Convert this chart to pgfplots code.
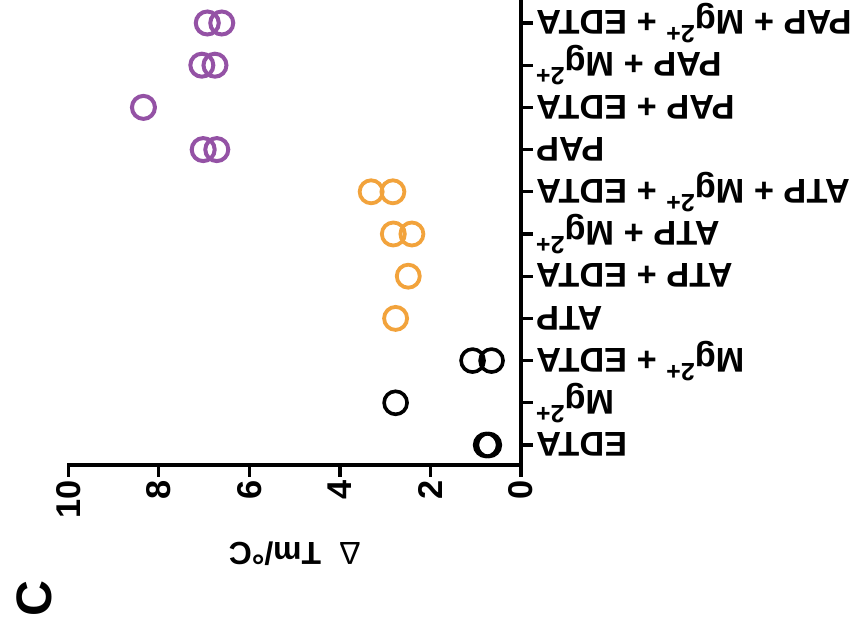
\documentclass[border=0pt]{standalone}
\usepackage{fontspec}
\setmainfont{Liberation Sans}
\usepackage{pgfplots}
\usepackage{pgfplotstable}
\pgfplotsset{compat=1.18}

\definecolor{papPurple}{RGB}{148,82,165}
\definecolor{atpOrange}{RGB}{242,163,60}

% raised charge for the magnesium ion
\newcommand{\mgion}{Mg\smash{\raisebox{15bp}{\fontsize{25}{25}\selectfont 2+}}}

% Delta Tm values: column val is the shift, idx the condition (0 = EDTA ... 10 = PAP + Mg2+ + EDTA)
\pgfplotstableread{
val idx
0.77 0
0.71 0
2.77 1
1.07 2
0.65 2
}\ionData
\pgfplotstableread{
val idx
2.77 3
2.49 4
2.82 5
2.41 5
3.31 6
2.83 6
}\atpData
\pgfplotstableread{
val idx
7.02 7
6.72 7
8.34 8
7.05 9
6.76 9
6.93 10
6.61 10
}\papData

\begin{document}
\begin{tikzpicture}
\path[use as bounding box] (0,0) rectangle (862bp,643bp);
\begin{axis}[
  scale only axis,
  width=452.7bp, height=465bp,
  at={(68.3bp,178bp)}, anchor=south west,
  x dir=reverse,
  xmin=0, xmax=10,
  ymin=-0.474, ymax=10.545,
  axis x line*=bottom,
  axis y line*=right,
  axis line style={line width=3.3bp, line cap=rect},
  every tick/.style={line width=3.3bp, black},
  tick align=outside,
  major tick length=12bp,
  xtick={0,2,4,6,8,10},
  ytick={0,1,2,3,4,5,6,7,8,9,10},
  yticklabels={EDTA, \mgion, \mgion{} + EDTA, ATP, ATP + EDTA,
    ATP + \mgion, ATP + \mgion{} + EDTA, PAP, PAP + EDTA,
    PAP + \mgion, PAP + \mgion{} + EDTA},
  /pgf/number format/assume math mode=true,
  tick label style={font=\fontsize{34.5}{34.5}\selectfont\bfseries},
  xticklabel style={rotate=90, anchor=east},
  yticklabel style={rotate=180, anchor=east, inner xsep=3bp,
    text height=24.7bp, text depth=0bp},
  xlabel={\textmd{Δ}\hspace{18bp}Tm/°C},
  xlabel style={at={(axis description cs:0.5,-0.19)}, rotate=180, anchor=center,
    font=\fontsize{32}{32}\selectfont\bfseries},
  clip=false,
]
\addplot[only marks, mark=o, mark size=11.5bp, mark options={line width=3.6bp, black}]
  table[x=val, y=idx] {\ionData};
\addplot[only marks, mark=o, mark size=11.5bp, mark options={line width=3.8bp, atpOrange}]
  table[x=val, y=idx] {\atpData};
\addplot[only marks, mark=o, mark size=11.5bp, mark options={line width=4bp, papPurple}]
  table[x=val, y=idx] {\papData};
\end{axis}
\node[rotate=90, font=\fontsize{50}{50}\selectfont\bfseries] at (34bp,44bp) {C};
\end{tikzpicture}
\end{document}
